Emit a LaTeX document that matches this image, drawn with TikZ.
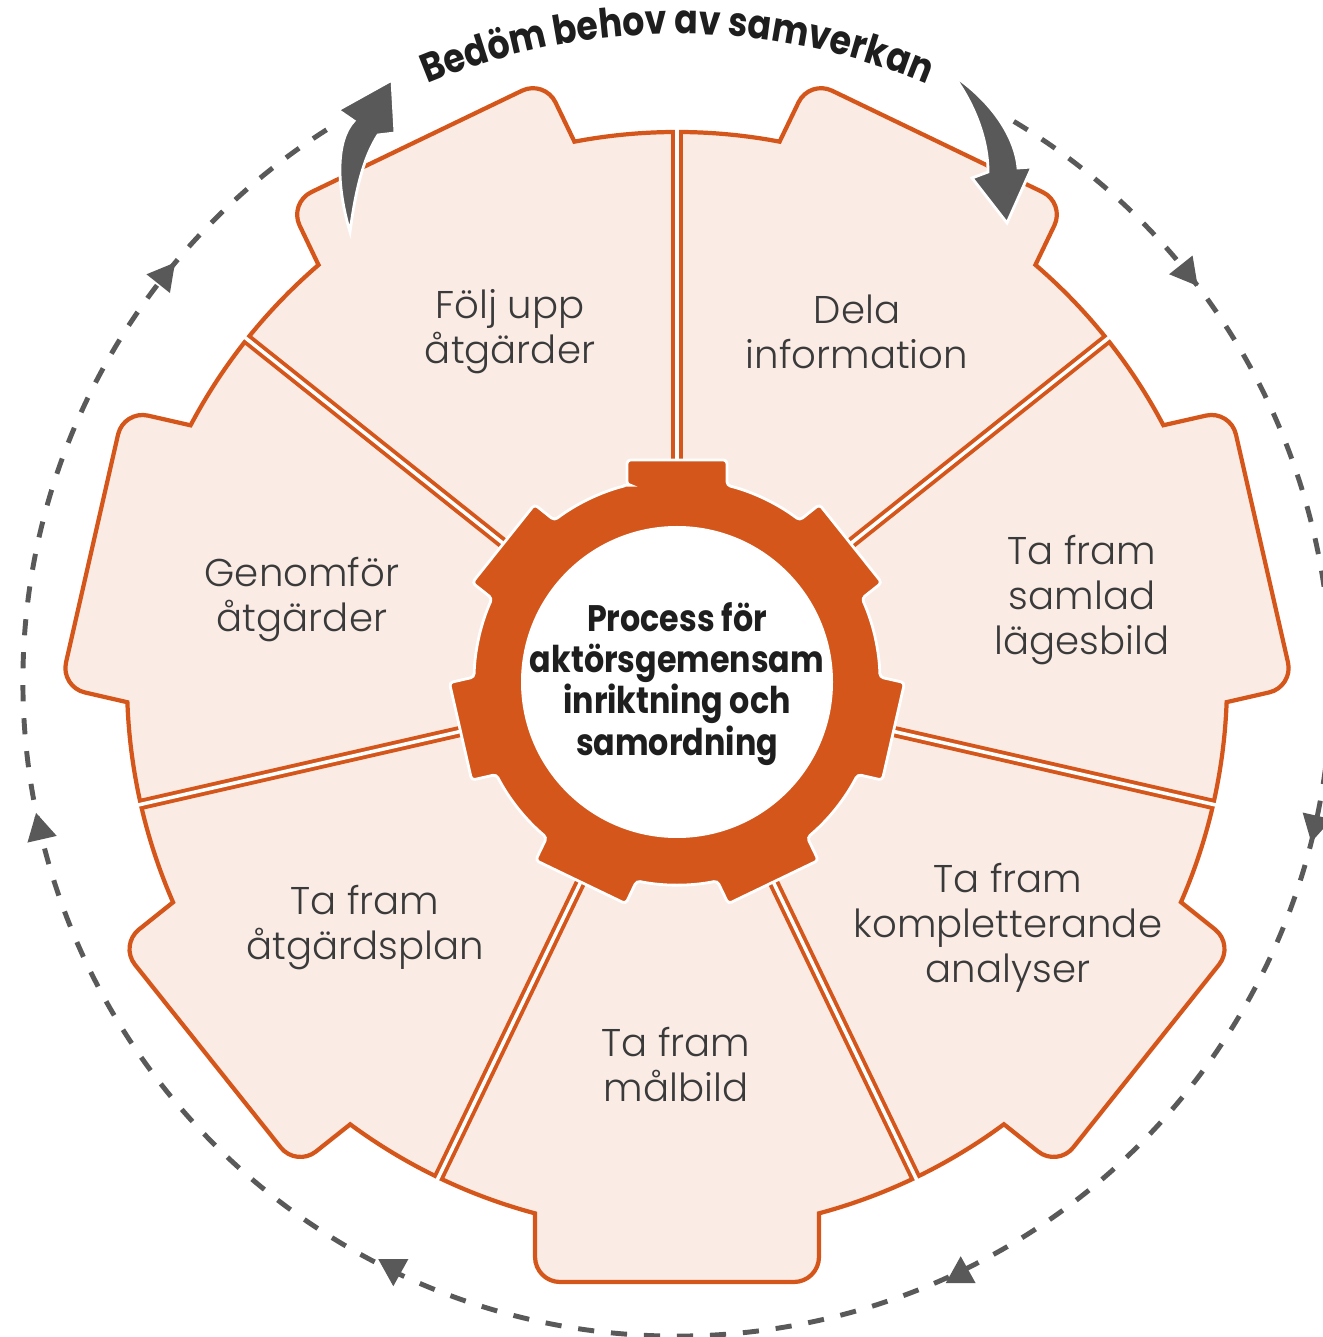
\documentclass[tikz,border=0pt]{standalone}
\usepackage{fontspec}
\setmainfont{Poppins}
\newfontfamily\corefont[FakeStretch=0.86]{Poppins}
\IfFontExistsTF{Poppins Light}{\newfontfamily\stepfont{Poppins Light}}{\newfontfamily\stepfont{Poppins}}
\usetikzlibrary{decorations.text}
\definecolor{mOrange}{HTML}{D5561A}
\definecolor{mPink}{HTML}{FAEBE5}
\definecolor{mGray}{HTML}{595959}
\definecolor{mText}{HTML}{3A3A3A}
\definecolor{mInk}{HTML}{1E1E1E}
\newcommand\arcfont{\corefont\fontsize{11.5}{12}\selectfont\bfseries\color{mInk}}

\begin{document}
\begin{tikzpicture}[
  seglabel/.style={text=mText, align=center, font=\stepfont\fontsize{11}{12.8}\selectfont},
  divider/.style={mOrange, line width=3.2pt},
  gapline/.style={white, line width=1pt}]
\useasboundingbox (-6.77,-6.55) rectangle (6.45,6.82);
% outer wheel, one tooth per step
\filldraw[fill=mPink, draw=mOrange, line width=1.2pt] (141.43:5.5)
  \foreach \a [evaluate=\a as \s using \a+25.71, evaluate=\a as \t using \a+14.96,
               evaluate=\a as \u using \a-14.96, evaluate=\a as \v using \a-25.71]
  in {115.71,64.29,12.86,-38.57,-90,-141.43,-192.86} {
    arc[start angle=\s, end angle=\t, radius=5.5]
    [rounded corners=0.25cm] -- (\a+13.31:6.166) -- (\a-13.31:6.166) [sharp corners] -- (\u:5.5)
    arc[start angle=\u, end angle=\v, radius=5.5]
  } -- cycle;
% double lines between the steps
\foreach \a in {90,38.57,-12.86,-64.29,-115.71,-167.14,-218.57} {
  \draw[divider] (\a:2.0) -- (\a:5.5);
  \draw[gapline] (\a:2.0) -- (\a:5.58);
}
% gear in the middle
\filldraw[fill=mOrange, draw=white, line width=0.8pt, rounded corners=1pt] (104.26:2.03)
  \foreach \a [evaluate=\a as \u using \a-14.26, evaluate=\a as \v using \a-37.17]
  in {90,38.57,-12.86,-64.29,-115.71,-167.14,-218.57} {
    -- (\a+12.69:2.276) -- (\a-12.69:2.276) -- (\u:2.03)
    arc[start angle=\u, end angle=\v, radius=2.03]
  } -- cycle;
\fill[white] (0,0) circle (1.56);
\node[font=\corefont\fontsize{10.5}{11.7}\selectfont\bfseries, text=mInk, align=center] (core) at (0,-0.02)
  {Process för\\aktörsgemensam\\inriktning och\\samordning};
% steps
\node[seglabel] (follow) at (-1.67,3.50) {Följ upp\\åtgärder};
\node[seglabel] (share) at (1.80,3.50) {Dela\\information};
\node[seglabel] (picture) at (4.05,0.82) {Ta fram\\samlad\\lägesbild};
\node[seglabel] (analysis) at (3.31,-2.46) {Ta fram\\kompletterande\\analyser};
\node[seglabel] (target) at (-0.01,-3.83) {Ta fram\\målbild};
\node[seglabel] (plan) at (-3.12,-2.46) {Ta fram\\åtgärdsplan};
\node[seglabel] (execute) at (-3.75,0.82) {Genomför\\åtgärder};
% dashed cycle with marks
\draw[mGray, line width=1.4pt, dash pattern=on 4.6pt off 4.8pt] (59:6.54) arc[start angle=59, end angle=-238, radius=6.54];
\foreach \a/\r in {141.43/51.43, 38.57/-51.43, -12.86/-102.86, -167.14/-257.14, -64.29/90, -115.71/-90}
  \fill[mGray, shift={(\a:6.54)}, rotate=\r] (0.15,0) -- (-0.12,0.15) -- (-0.12,-0.15) -- cycle;
% curved arrows at the top
\filldraw[fill=mGray, draw=white, line width=0.8pt] (-3.27,4.50)
  .. controls (-3.41,4.97) and (-3.41,5.42) .. (-3.23,5.61) -- (-3.39,5.72) -- (-2.85,6.02)
  -- (-2.82,5.49) -- (-2.99,5.47) .. controls (-3.15,5.22) and (-3.22,4.87) .. cycle;
\filldraw[fill=mGray, draw=white, line width=0.8pt] (2.76,6.07)
  .. controls (3.13,5.82) and (3.38,5.47) .. (3.41,5.14) -- (3.55,5.15) -- (3.30,4.59)
  -- (2.95,5.04) -- (3.11,5.10) .. controls (3.11,5.42) and (2.98,5.77) .. cycle;
\path[decorate, decoration={text along path, text align=center,
  text={|\arcfont|Bedöm behov av samverkan}}] (130:6.48) arc[start angle=130, end angle=50, radius=6.48];
\end{tikzpicture}
\end{document}
